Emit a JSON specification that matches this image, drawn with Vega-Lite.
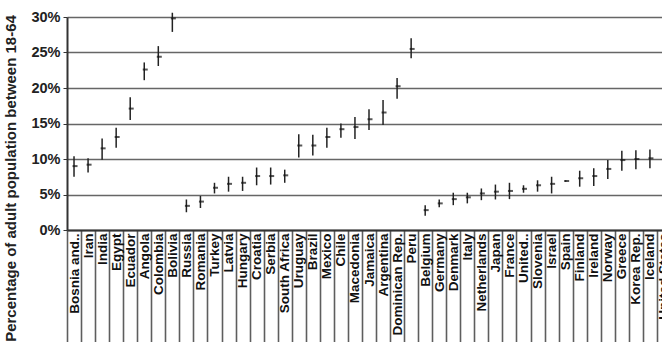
{
  "$schema": "https://vega.github.io/schema/vega-lite/v6.json",
  "width": 595,
  "height": 213,
  "autosize": "none",
  "padding": {"left": 67, "top": 17, "right": 0, "bottom": 112},
  "background": "white",
  "config": {"view": {"stroke": null}, "font": "Arial"},
  "data": {
    "values": [
      {"country": "Bosnia and..", "mean": 9.0, "lo": 7.5, "hi": 10.4},
      {"country": "Iran", "mean": 9.2, "lo": 8.1, "hi": 10.1},
      {"country": "India", "mean": 11.5, "lo": 9.9, "hi": 12.9},
      {"country": "Egypt", "mean": 13.1, "lo": 11.6, "hi": 14.4},
      {"country": "Ecuador", "mean": 17.1, "lo": 15.5, "hi": 18.7},
      {"country": "Angola", "mean": 22.6, "lo": 21.1, "hi": 23.6},
      {"country": "Colombia", "mean": 24.4, "lo": 23.1, "hi": 25.9},
      {"country": "Bolivia", "mean": 29.8, "lo": 27.9, "hi": 30.6},
      {"country": "Russia", "mean": 3.4, "lo": 2.5, "hi": 4.3},
      {"country": "Romania", "mean": 4.0, "lo": 3.1, "hi": 4.8},
      {"country": "Turkey", "mean": 5.95, "lo": 5.15, "hi": 6.65},
      {"country": "Latvia", "mean": 6.5, "lo": 5.4, "hi": 7.5},
      {"country": "Hungary", "mean": 6.65, "lo": 5.5, "hi": 7.5},
      {"country": "Croatia", "mean": 7.6, "lo": 6.3, "hi": 8.8},
      {"country": "Serbia", "mean": 7.6, "lo": 6.4, "hi": 8.8},
      {"country": "South Africa", "mean": 7.7, "lo": 6.65, "hi": 8.5},
      {"country": "Uruguay", "mean": 11.9, "lo": 10.2, "hi": 13.5},
      {"country": "Brazil", "mean": 11.9, "lo": 10.5, "hi": 13.4},
      {"country": "Mexico", "mean": 13.1, "lo": 11.6, "hi": 14.4},
      {"country": "Chile", "mean": 14.2, "lo": 13.0, "hi": 15.0},
      {"country": "Macedonia", "mean": 14.5, "lo": 12.8, "hi": 15.9},
      {"country": "Jamaica", "mean": 15.6, "lo": 14.1, "hi": 17.0},
      {"country": "Argentina", "mean": 16.55, "lo": 14.8, "hi": 18.3},
      {"country": "Dominican Rep.", "mean": 20.25, "lo": 18.5, "hi": 21.4},
      {"country": "Peru", "mean": 25.5, "lo": 24.2, "hi": 27.0},
      {"country": "Belgium", "mean": 2.8, "lo": 2.0, "hi": 3.5},
      {"country": "Germany", "mean": 3.75, "lo": 3.2, "hi": 4.3},
      {"country": "Denmark", "mean": 4.35, "lo": 3.5, "hi": 5.25},
      {"country": "Italy", "mean": 4.6, "lo": 3.75, "hi": 5.25},
      {"country": "Netherlands", "mean": 5.15, "lo": 4.2, "hi": 5.85},
      {"country": "Japan", "mean": 5.4, "lo": 4.3, "hi": 6.4},
      {"country": "France", "mean": 5.5, "lo": 4.35, "hi": 6.65},
      {"country": "United..", "mean": 5.8, "lo": 5.25, "hi": 6.3},
      {"country": "Slovenia", "mean": 6.3, "lo": 5.4, "hi": 7.0},
      {"country": "Israel", "mean": 6.5, "lo": 5.15, "hi": 7.5},
      {"country": "Spain", "mean": 6.9, "lo": 6.8, "hi": 7.0},
      {"country": "Finland", "mean": 7.3, "lo": 6.1, "hi": 8.35},
      {"country": "Ireland", "mean": 7.6, "lo": 6.2, "hi": 8.7},
      {"country": "Norway", "mean": 8.6, "lo": 7.2, "hi": 9.85},
      {"country": "Greece", "mean": 9.85, "lo": 8.35, "hi": 11.15},
      {"country": "Korea Rep.", "mean": 10.0, "lo": 8.55, "hi": 11.25},
      {"country": "Iceland", "mean": 10.1, "lo": 8.7, "hi": 11.35},
      {"country": "United States", "mean": 11.0, "lo": 9.9, "hi": 12.0}
    ]
  },
  "encoding": {
    "x": {
      "field": "country",
      "type": "nominal",
      "sort": null,
      "scale": {"paddingInner": 0, "paddingOuter": 0, "range": [0, 604]},
      "axis": {
        "title": null,
        "domain": true,
        "domainColor": "#333333",
        "domainWidth": 2,
        "ticks": true,
        "tickBand": "extent",
        "tickSize": 112,
        "tickColor": "#5e5e5e",
        "tickWidth": 1.6,
        "labelAngle": -90,
        "labelAlign": "right",
        "labelBaseline": "middle",
        "labelPadding": -109,
        "labelFont": "Arial",
        "labelFontWeight": "bold",
        "labelFontSize": 13.5,
        "labelColor": "#111111",
        "labelLimit": 300,
        "labelOverlap": false
      }
    },
    "y": {
      "field": "lo",
      "type": "quantitative",
      "scale": {"domain": [0, 30], "nice": false, "zero": true},
      "axis": {
        "title": "Percentage of adult population between 18-64",
        "titleFont": "Arial",
        "titleFontWeight": "bold",
        "titleFontSize": 15,
        "titleColor": "#222222",
        "titleAngle": -90,
        "titleAlign": "center",
        "titleBaseline": "middle",
        "titleX": -57,
        "titleY": 161,
        "values": [0, 5, 10, 15, 20, 25, 30],
        "tickCount": 7,
        "labelExpr": "datum.value + '%'",
        "labelOverlap": false,
        "labelFont": "Arial",
        "labelFontWeight": "bold",
        "labelFontSize": 14.5,
        "labelColor": "#222222",
        "labelPadding": 3,
        "grid": true,
        "gridColor": "#666666",
        "gridWidth": 1.5,
        "domain": true,
        "domainColor": "#333333",
        "domainWidth": 2,
        "ticks": true,
        "tickSize": 4,
        "tickColor": "#333333"
      }
    }
  },
  "layer": [
    {
      "mark": {"type": "rule", "color": "#222222", "strokeWidth": 1.5},
      "encoding": {
        "y2": {"field": "hi"}
      }
    },
    {
      "mark": {"type": "tick", "color": "#111111", "size": 5, "thickness": 2, "xOffset": 1},
      "encoding": {
        "y": {"field": "mean", "type": "quantitative", "title": "Percentage of adult population between 18-64"}
      }
    }
  ]
}
